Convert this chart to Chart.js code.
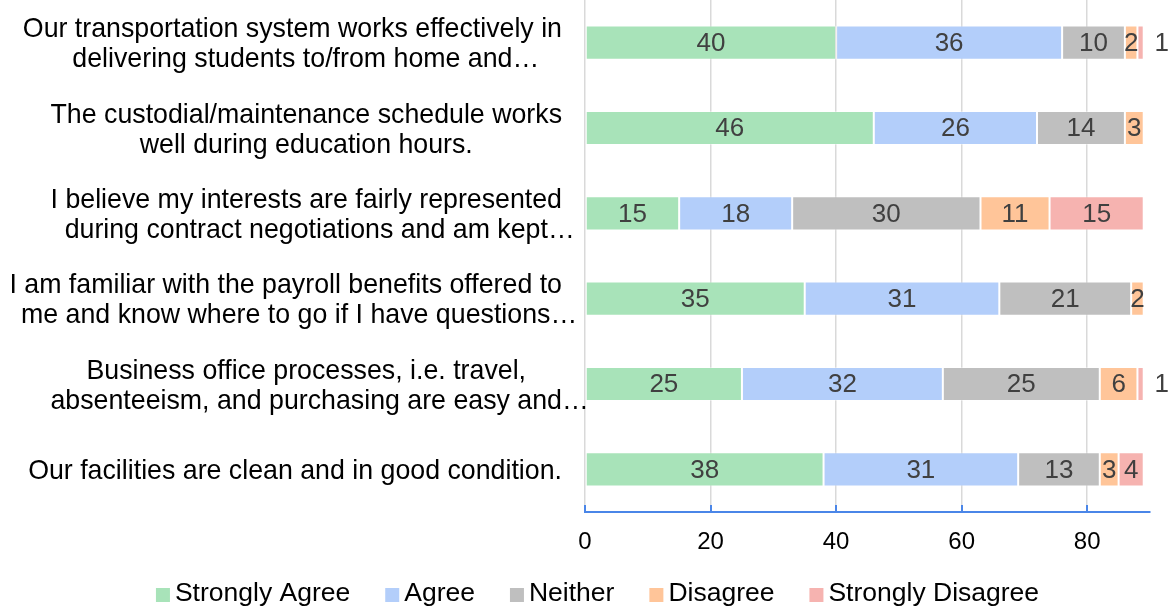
<!DOCTYPE html>
<html>
<head>
<meta charset="utf-8">
<script src="https://cdn.jsdelivr.net/npm/chart.js@4.4.0/dist/chart.umd.min.js"></script>
<style>
html,body{margin:0;padding:0;background:#ffffff;}
#wrap{width:1170px;height:607px;position:relative;}
</style>
</head>
<body>
<div id="wrap"><canvas id="c" width="1170" height="607"></canvas></div>
<script>
// ---- data ----
const categories = [
  ["Our transportation system works effectively in", "delivering students to/from home and…"],
  ["The custodial/maintenance schedule works", "well during education hours."],
  ["I believe my interests are fairly represented", "during contract negotiations and am kept…"],
  ["I am familiar with the payroll benefits offered to", "me and know where to go if I have questions…"],
  ["Business office processes, i.e. travel,", "absenteeism, and purchasing are easy and…"],
  ["Our facilities are clean and in good condition."]
];
const seriesNames = ["Strongly Agree", "Agree", "Neither", "Disagree", "Strongly Disagree"];
const stronglyAgree    = [40, 46, 15, 35, 25, 38];
const agree            = [36, 26, 18, 31, 32, 31];
const neither          = [10, 14, 30, 21, 25, 13];
const disagree         = [2, 3, 11, 2, 6, 3];
const stronglyDisagree = [1, 0, 15, 0, 1, 4];
const xTickValues = [0, 20, 40, 60, 80];

// ---- styles ----
const seriesColors = ["#A8E3B9", "#B3CEFA", "#BFBFBF", "#FFC599", "#F6B3B0"];
const FONT = "'Liberation Sans', Arial, sans-serif";
const AXIS_BLUE = "#4a86e8";

const seriesValues = [stronglyAgree, agree, neither, disagree, stronglyDisagree];

const datasets = seriesNames.map((name, i) => ({
  label: name,
  data: seriesValues[i],
  backgroundColor: seriesColors[i],
  borderColor: "rgba(255,255,255,0.35)",
  borderWidth: 1,
  borderSkipped: false,
  barPercentage: 0.4,
  categoryPercentage: 1.0
}));

const customDraw = {
  id: "customDraw",
  afterDatasetsDraw(chart) {
    const ctx = chart.ctx;
    ctx.save();
    ctx.font = "26px " + FONT;
    ctx.fillStyle = "#404040";
    ctx.textBaseline = "middle";
    ctx.textAlign = "center";
    chart.data.datasets.forEach((ds, di) => {
      const meta = chart.getDatasetMeta(di);
      meta.data.forEach((bar, i) => {
        const v = ds.data[i];
        if (!v) return;
        const left = Math.min(bar.x, bar.base), right = Math.max(bar.x, bar.base);
        const w = right - left;
        let x = (left + right) / 2;
        if (w < 10) x = right + 18;
        ctx.fillText(String(v), x, bar.y + 1);
      });
    });
    ctx.restore();
  },
  afterDraw(chart) {
    const ctx = chart.ctx;
    const xs = chart.scales.x, ys = chart.scales.y;
    ctx.save();
    // inner tick marks on x axis
    ctx.strokeStyle = AXIS_BLUE;
    ctx.lineWidth = 2;
    xTickValues.forEach(v => {
      const px = Math.round(xs.getPixelForValue(v));
      ctx.beginPath();
      ctx.moveTo(px, xs.top);
      ctx.lineTo(px, xs.top - 7);
      ctx.stroke();
    });
    // category labels
    ctx.font = "26.75px " + FONT;
    ctx.fillStyle = "#000000";
    ctx.textBaseline = "alphabetic";
    ctx.textAlign = "left";
    const rightEdge = 562;
    const lineGap = 30;
    categories.forEach((lines, i) => {
      const cy = ys.getPixelForValue(i);
      const bodyW = lines.map(l => ctx.measureText(l.replace(/…$/, "")).width);
      const blockW = Math.max(...bodyW);
      const center = rightEdge - blockW / 2;
      const n = lines.length;
      lines.forEach((l, k) => {
        const base = cy + (k - (n - 1) / 2) * lineGap + 9.5;
        ctx.fillText(l, center - bodyW[k] / 2, base);
      });
    });
    // legend
    ctx.font = "26.5px " + FONT;
    const box = 14, gapBT = 5, gapItem = 35;
    const widths = seriesNames.map(n => box + gapBT + ctx.measureText(n).width);
    const total = widths.reduce((a, b) => a + b, 0) + gapItem * (seriesNames.length - 1);
    let x = 597.5 - total / 2;
    const baseY = 601;
    seriesNames.forEach((n, i) => {
      ctx.fillStyle = seriesColors[i];
      ctx.fillRect(x, 588, box, box);
      ctx.fillStyle = "#000000";
      ctx.fillText(n, x + box + gapBT, baseY);
      x += widths[i] + gapItem;
    });
    ctx.restore();
  }
};

new Chart(document.getElementById("c"), {
  type: "bar",
  data: {
    labels: categories.map(l => l.join(" ")),
    datasets: datasets
  },
  options: {
    indexAxis: "y",
    responsive: false,
    animation: false,
    devicePixelRatio: 1,
    layout: { padding: { left: 0, right: 20, top: 0, bottom: 0 } },
    plugins: {
      legend: { display: false },
      tooltip: { enabled: false }
    },
    scales: {
      x: {
        type: "linear",
        stacked: true,
        min: 0,
        max: 90,
        afterBuildTicks: (s) => { s.ticks = xTickValues.map(v => ({ value: v })); },
        afterFit: (s) => { s.height = 95; },
        grid: { color: "#d9d9d9", lineWidth: 1.5, drawTicks: false },
        border: { display: true, color: AXIS_BLUE, width: 2 },
        ticks: {
          font: { family: FONT, size: 24 },
          color: "#000000",
          padding: 16
        }
      },
      y: {
        type: "category",
        stacked: true,
        afterFit: (s) => { s.width = 585; },
        grid: { display: false },
        border: { display: false },
        ticks: { display: false }
      }
    }
  },
  plugins: [customDraw]
});
</script>
</body>
</html>
